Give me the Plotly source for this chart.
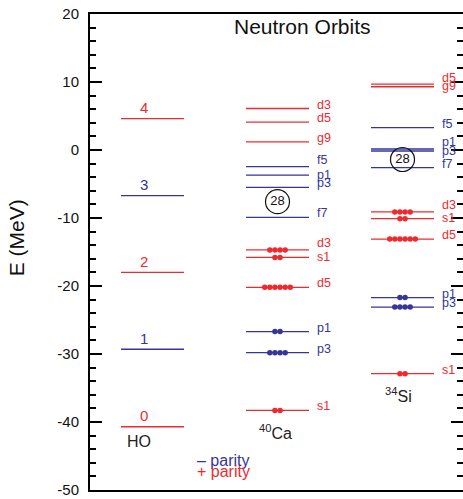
import plotly.graph_objects as go

# ---------------- data ----------------
ho_quanta = ["0", "1", "2", "3", "4"]
ho_energy = [-40.7, -29.3, -18.0, -6.7, 4.6]

ca_orbits = ["s1", "p3", "p1", "d5", "s1", "d3", "f7", "p3", "p1", "f5", "g9", "d5", "d3"]
ca_energy = [-38.3, -29.8, -26.7, -20.2, -15.8, -14.7, -9.9, -5.5, -3.7, -2.45, 1.2, 4.1, 6.1]
ca_occupancy = [2, 4, 2, 6, 2, 4, 0, 0, 0, 0, 0, 0, 0]

si_orbits = ["s1", "p3", "p1", "d5", "s1", "d3", "f7", "p3", "p1", "f5", "g9", "d5"]
si_energy = [-32.9, -23.1, -21.7, -13.1, -10.1, -9.1, -2.6, -0.15, 0.15, 3.3, 9.3, 9.7]
si_occupancy = [2, 4, 2, 6, 2, 4, 0, 0, 0, 0, 0, 0]

magic_label = "28"
ca_magic_energy = -7.6
si_magic_energy = -1.4

y_tick_values = [-50, -40, -30, -20, -10, 0, 10, 20]
y_tick_labels = ["-50", "-40", "-30", "-20", "-10", "0", "10", "20"]

# ---------------- style ----------------
RED = "#ee2a2e"
BLUE = "#35359a"
FONT = "Liberation Sans, Arial, Helvetica, sans-serif"
HALF = 0.252
DOT_STEP = 0.041

def orbit_color(name):
    return BLUE if name[0] in "pf" else RED

fig = go.Figure()

def add_levels(center, energies, colors):
    for col in (RED, BLUE):
        xs, ys = [], []
        for e, c in zip(energies, colors):
            if c == col:
                xs += [center - HALF, center + HALF, None]
                ys += [e, e, None]
        if xs:
            fig.add_trace(go.Scatter(x=xs, y=ys, mode="lines",
                                     line=dict(color=col, width=1.3),
                                     hoverinfo="skip", showlegend=False))

def add_dots(center, energies, occ, names):
    for col in (RED, BLUE):
        xs, ys = [], []
        for e, n, nm in zip(energies, occ, names):
            if orbit_color(nm) != col:
                continue
            for i in range(n):
                xs.append(center + (i - (n - 1) / 2) * DOT_STEP)
                ys.append(e)
        fig.add_trace(go.Scatter(x=xs, y=ys, mode="markers",
                                 marker=dict(color=col, size=5.5, line=dict(width=0)),
                                 hoverinfo="skip", showlegend=False))

def add_orbit_labels(xlab, names, energies):
    order = sorted(range(len(energies)), key=lambda i: energies[i])
    for k, i in enumerate(order):
        e = energies[i]
        shift = 4
        below = energies[order[k - 1]] if k > 0 else None
        above = energies[order[k + 1]] if k + 1 < len(order) else None
        if below is not None and e - below < 1.3:
            shift = 6.5
        elif above is not None and above - e < 1.3:
            shift = 0.5
        fig.add_annotation(x=xlab, y=e, text=names[i], showarrow=False,
                           xanchor="left", yanchor="middle", yshift=shift,
                           font=dict(family=FONT, size=12.5, color=orbit_color(names[i])))

# HO column
ho_colors = [RED if int(q) % 2 == 0 else BLUE for q in ho_quanta]
add_levels(0, ho_energy, ho_colors)
for q, e, c in zip(ho_quanta, ho_energy, ho_colors):
    fig.add_annotation(x=-0.072, y=e, text=q, showarrow=False, yshift=11,
                       xanchor="center", yanchor="middle",
                       font=dict(family=FONT, size=15, color=c))

# 40Ca column
add_levels(1, ca_energy, [orbit_color(n) for n in ca_orbits])
add_dots(1, ca_energy, ca_occupancy, ca_orbits)
add_orbit_labels(1.30, ca_orbits, ca_energy)

# 34Si column
add_levels(2, si_energy, [orbit_color(n) for n in si_orbits])
add_dots(2, si_energy, si_occupancy, si_orbits)
add_orbit_labels(2.30, si_orbits, si_energy)

# magic number circles
fig.add_trace(go.Scatter(x=[1, 2], y=[ca_magic_energy, si_magic_energy],
                         mode="markers+text", text=[magic_label, magic_label],
                         textposition="middle center",
                         textfont=dict(family=FONT, size=13, color="#111"),
                         marker=dict(symbol="circle-open", size=24, color="#111",
                                     line=dict(width=1.2, color="#111")),
                         hoverinfo="skip", showlegend=False))

# right-side mirrored ticks
fig.add_trace(go.Scatter(x=[0], y=[-60], yaxis="y2", mode="markers",
                         marker=dict(size=1, opacity=0), hoverinfo="skip",
                         showlegend=False))

# text annotations
fig.add_annotation(x=1.2, y=18.2, text="Neutron Orbits", showarrow=False,
                   font=dict(family=FONT, size=21, color="#111"))
fig.add_annotation(x=-0.108, y=-42.9, text="HO", showarrow=False,
                   font=dict(family=FONT, size=16, color="#222"))
fig.add_annotation(x=0.98, y=-41.5, text="<sup>40</sup>Ca", showarrow=False,
                   font=dict(family=FONT, size=16, color="#222"))
fig.add_annotation(x=1.964, y=-36.0, text="<sup>34</sup>Si", showarrow=False,
                   font=dict(family=FONT, size=16, color="#222"))
fig.add_annotation(x=0.34, y=-45.6, text="– parity", showarrow=False, xanchor="left",
                   font=dict(family=FONT, size=16, color=BLUE))
fig.add_annotation(x=0.34, y=-47.3, text="+ parity", showarrow=False, xanchor="left",
                   font=dict(family=FONT, size=16, color=RED))
fig.add_annotation(xref="paper", yref="paper", x=-0.197, y=0.53,
                   text="E (MeV)", showarrow=False, textangle=-90,
                   xanchor="center", yanchor="middle",
                   font=dict(family=FONT, size=21, color="#111"))

yax_common = dict(range=[-50, 20], tickmode="array", tickvals=y_tick_values,
                  ticktext=y_tick_labels, ticks="inside", ticklen=12,
                  tickwidth=1.5, tickcolor="#000", showgrid=False, zeroline=False,
                  minor=dict(dtick=2, tick0=0, ticks="inside", ticklen=6, tickwidth=1.5,
                             tickcolor="#000", showgrid=False))

fig.update_layout(
    width=463, height=499,
    margin=dict(l=90, r=0, t=14, b=9),
    paper_bgcolor="white", plot_bgcolor="white",
    xaxis=dict(range=[-0.5, 2.484], showline=True, mirror=True, linewidth=2,
               linecolor="#000", showticklabels=False, ticks="", showgrid=False,
               zeroline=False, fixedrange=True),
    yaxis=dict(**yax_common, showline=True, linewidth=2, linecolor="#000",
               ticklabelstandoff=6,
               tickfont=dict(family=FONT, size=15, color="#111")),
    yaxis2=dict(**yax_common, overlaying="y", side="right", showline=False,
                showticklabels=False),
    showlegend=False,
)

fig.write_html("out.html")
